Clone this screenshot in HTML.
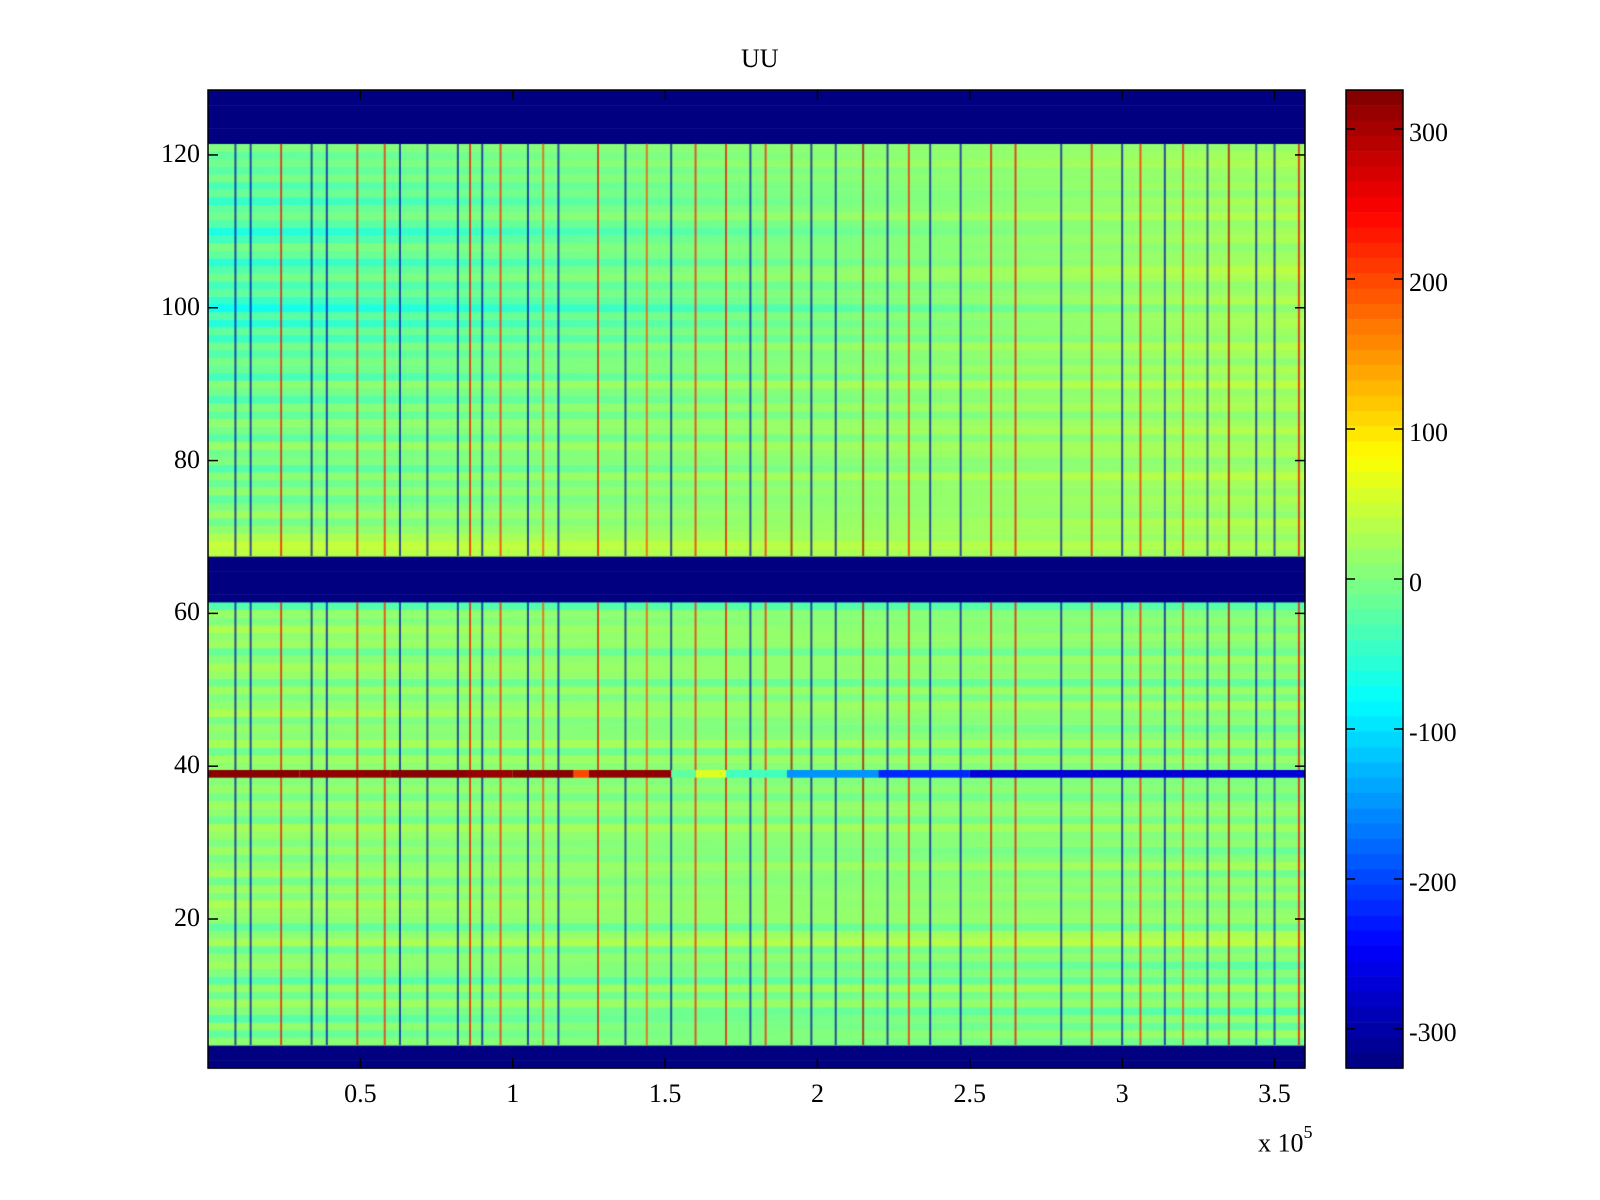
<!DOCTYPE html>
<html><head><meta charset="utf-8"><style>
body{margin:0;background:#fff;width:1600px;height:1200px;overflow:hidden;position:relative;font-family:"Liberation Serif",serif;}
.t{position:absolute;font-size:26px;color:#000;white-space:nowrap;}
canvas{position:absolute;left:0;top:0;}
</style></head><body>
<canvas id="c" width="1600" height="1200"></canvas>
<svg id="s" width="1600" height="1200" style="position:absolute;left:0;top:0"></svg>
<div class="t" style="left:741px;top:44px">UU</div>
<script>
// ---- data ----
const xTicks=[0.5,1,1.5,2,2.5,3,3.5];
const xTickLabels=["0.5","1","1.5","2","2.5","3","3.5"];
const yTicks=[20,40,60,80,100,120];
const cTicks=[300,200,100,0,-100,-200,-300];
const blueRows=[1,2,3,62,63,64,65,66,67,122,123,124,125,126,127,128];
const rowsLeftLow1=[10,-20,15,-30,5,20,-10,15,-25,0,20,10,-15,25,5,-20,10];
const rowsLeftLow2=[15,30,0,20,-10,25,10,-5,20,0,15,25,-10,10,20,-5,15,5];
const rowsLeftMid=[10,20,-10,25,5,15,-5,30,10,0,20,-10,15,25,5,-15,20,10,30,0,15,-30];
const rowsLeftUp=[40,45,30,10,-10,20,0,-20,10,-15,5,-30,0,-10,15,-25,-5,10,-20,0,-35,-10,5,-40,-15,-5,-30,-10,-45,-20,-60,-30,-75,-50,-20,-40,-10,-30,-55,-20,-5,-40,-65,-30,-10,-20,-50,-15,-35,-5,-25,-10,-20,0];
const rowsRightLow1=[-10,20,-20,15,-30,10,-5,25,-15,5,-25,10,0,40,30,-10,15];
const rowsRightLow2=[10,-5,20,0,15,-10,25,5,-15,10,0,20,-5,15,10,-10,5,0];
const rowsRightMid=[0,15,-10,20,5,-15,10,0,25,-5,15,-20,10,0,20,-10,5,15,-5,10,0,-25];
const rowsRightUp=[20,30,15,25,35,10,20,30,15,25,40,20,10,30,25,15,35,20,10,30,25,15,40,20,30,10,25,35,15,20,30,25,10,35,20,15,30,40,25,20,10,30,25,15,35,20,30,10,25,15,20,30,25,15];
const stripeX=[0.09,0.14,0.24,0.34,0.39,0.49,0.58,0.63,0.72,0.82,0.86,0.9,0.96,1.05,1.1,1.15,1.28,1.37,1.44,1.52,1.6,1.7,1.78,1.83,1.915,1.98,2.06,2.15,2.23,2.3,2.37,2.47,2.57,2.65,2.8,2.9,3.0,3.06,3.14,3.2,3.28,3.35,3.44,3.5,3.58];
const stripeV=[-300,-300,250,-310,-300,250,230,-300,-310,-300,250,-300,230,-300,200,-300,250,-300,200,-300,230,250,-300,230,300,-310,-300,300,-300,230,-300,-300,250,250,-300,250,-300,230,-300,230,-300,300,-300,-300,250];
const row39Start=[0,0.3,0.6,0.85,1.0,1.2,1.25,1.52,1.6,1.7,1.9,2.2,2.5];
const row39End=[0.3,0.6,0.85,1.0,1.2,1.25,1.52,1.6,1.7,1.9,2.2,2.5,3.6];
const row39Val=[320,315,320,310,320,200,315,-20,60,-40,-150,-220,-270];

// ---- layout ----
const X0=208,X1=1305,Y0=90,Y1=1068,XMAX=3.6,CMIN=-326,CMAX=326;
const sx=v=>X0+v/XMAX*(X1-X0);
const rowH=(Y1-Y0)/128;
const sy=v=>Y1-(v-0.5)*rowH;
function jet(v){let t=(v-CMIN)/(CMAX-CMIN);t=Math.max(0,Math.min(1,t));
 const f=x=>Math.max(0,Math.min(1,Math.min(4*t-x+1.5, -4*t+x+1.5)));
 const r=f(3),g=f(2),b=f(1);return `rgb(${Math.round(r*255)},${Math.round(g*255)},${Math.round(b*255)})`;}
function rowVals(side){const a=[];for(let i=1;i<=128;i++)a[i]=-326;
 const L=side?[rowsRightLow1,rowsRightLow2,rowsRightMid,rowsRightUp]:[rowsLeftLow1,rowsLeftLow2,rowsLeftMid,rowsLeftUp];
 L[0].forEach((v,i)=>a[4+i]=v);L[1].forEach((v,i)=>a[21+i]=v);a[39]=0;
 L[2].forEach((v,i)=>a[40+i]=v);L[3].forEach((v,i)=>a[68+i]=v);return a;}
const ctx=document.getElementById('c').getContext('2d');
const lv=rowVals(0),rv=rowVals(1);
for(let r=1;r<=128;r++){
 const g=ctx.createLinearGradient(X0,0,X1,0);g.addColorStop(0,jet(lv[r]));g.addColorStop(1,jet(rv[r]));
 ctx.fillStyle=blueRows.includes(r)?jet(-326):g;
 ctx.fillRect(X0,sy(r+0.5),X1-X0,rowH+0.5);}
ctx.globalAlpha=0.7;
for(let i=0;i<stripeX.length;i++){ctx.fillStyle=jet(stripeV[i]);
 ctx.fillRect(sx(stripeX[i])-1,sy(61.5),2,sy(3.5)-sy(61.5));
 ctx.fillRect(sx(stripeX[i])-1,sy(121.5),2,sy(67.5)-sy(121.5));}
ctx.globalAlpha=1;
for(let i=0;i<row39Start.length;i++){ctx.fillStyle=jet(row39Val[i]);
 ctx.fillRect(sx(row39Start[i]),sy(39.5),sx(row39End[i])-sx(row39Start[i]),rowH);}
// colorbar
const CB0=1346,CB1=1403;
const cy=v=>Y0+(CMAX-v)/(CMAX-CMIN)*(Y1-Y0);
for(let k=0;k<64;k++){const v=CMAX-(k+0.5)*(CMAX-CMIN)/64;ctx.fillStyle=jet(v);
 ctx.fillRect(CB0,Y0+k*(Y1-Y0)/64,CB1-CB0,(Y1-Y0)/64+0.6);}
// axes svg
const s=document.getElementById('s');const NS='http://www.w3.org/2000/svg';
function ln(x1,y1,x2,y2,name){const l=document.createElementNS(NS,'line');
 l.setAttribute('x1',x1);l.setAttribute('y1',y1);l.setAttribute('x2',x2);l.setAttribute('y2',y2);
 l.setAttribute('stroke','#000');l.setAttribute('stroke-width','1.5');
 
 
 s.appendChild(l);}
function rect(x,y,w,h,name){const r=document.createElementNS(NS,'rect');
 r.setAttribute('x',x);r.setAttribute('y',y);r.setAttribute('width',w);r.setAttribute('height',h);
 r.setAttribute('fill','none');r.setAttribute('stroke','#000');r.setAttribute('stroke-width','1.5');
 
 
 s.appendChild(r);}
function lbl(txt,x,y,anchor,name){const t=document.createElement('div');t.className='t';t.textContent=txt;
 t.style.left=x+'px';t.style.top=y+'px';
 if(anchor==='c')t.style.transform='translateX(-50%)';
 if(anchor==='r')t.style.transform='translateX(-100%)';
 
 
 document.body.appendChild(t);}
rect(X0,Y0,X1-X0,Y1-Y0,'plot-frame');
xTicks.forEach((v,i)=>{ln(sx(v),Y1,sx(v),Y1-10,'x-tick');ln(sx(v),Y0,sx(v),Y0+10,'x-tick-top');
 lbl(xTickLabels[i],sx(v),1079,'c','x-tick-label');});
yTicks.forEach(v=>{ln(X0,sy(v),X0+10,sy(v),'y-tick');ln(X1,sy(v),X1-10,sy(v),'y-tick-right');
 lbl(String(v),X0-8,sy(v)-16,'r','y-tick-label');});
rect(CB0,Y0,CB1-CB0,Y1-Y0,'colorbar-frame');
cTicks.forEach(v=>{ln(CB0,cy(v),CB0+9,cy(v),'colorbar-tick');ln(CB1,cy(v),CB1-9,cy(v),'colorbar-tick-right');
 lbl(String(v),1409,cy(v)-11,'l','colorbar-tick-label');});
</script>
<div class="t" style="left:1258px;top:1126px">x 10<sup style="font-size:18px;position:relative;top:-4px">5</sup></div>
</body></html>
